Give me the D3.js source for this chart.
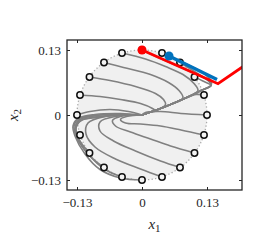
<!DOCTYPE html>
<html>
<head>
<meta charset="utf-8">
<script src="https://cdn.jsdelivr.net/npm/d3@7"></script>
<style>
  body { margin: 0; background: #fff; }
  svg text { font-family: "Liberation Serif", "DejaVu Serif", serif; fill: #262626; }
</style>
</head>
<body>
<div id="chart"></div>
<script>
// initial states on the circle (r = 0.13)
const starts = [
  [0.130, 0], [0.124, 0.040], [0.105, 0.076], [0.076, 0.105], [0.040, 0.124],
  [0, 0.130], [-0.040, 0.124], [-0.076, 0.105], [-0.105, 0.076], [-0.124, 0.040],
  [-0.130, 0], [-0.124, -0.040], [-0.105, -0.076], [-0.076, -0.105], [-0.040, -0.124],
  [0, -0.130], [0.040, -0.124], [0.076, -0.105], [0.105, -0.076], [0.124, -0.040]
];

// slow direction everything from the top slides in on
const diag = [[0.138, 0.059], [0.118, 0.049], [0.098, 0.039], [0.078, 0.030],
  [0.057, 0.021], [0.037, 0.013], [0.017, 0.006], [0, 0]];

// upper half: run right, then join diag at index j
const trajUpper = [
  { pts: [[0, 0.130], [0.037, 0.113], [0.078, 0.095], [0.118, 0.077], [0.138, 0.065]], j: 0 },
  { pts: [[0.040, 0.124], [0.078, 0.107], [0.118, 0.087], [0.138, 0.069]], j: 0 },
  { pts: [[0.076, 0.105], [0.108, 0.085], [0.134, 0.067]], j: 0 },
  { pts: [[0.105, 0.076], [0.124, 0.067]], j: 0 },
  { pts: [[0.124, 0.040], [0.108, 0.041], [0.088, 0.034]], j: 3 },
  { pts: [[-0.040, 0.124], [0.007, 0.112], [0.047, 0.097], [0.082, 0.081], [0.104, 0.063], [0.112, 0.049]], j: 2 },
  { pts: [[-0.076, 0.105], [-0.037, 0.095], [0.017, 0.081], [0.053, 0.065], [0.074, 0.049], [0.082, 0.035]], j: 3 },
  { pts: [[-0.105, 0.076], [-0.064, 0.069], [-0.013, 0.057], [0.027, 0.043], [0.043, 0.031], [0.047, 0.021]], j: 5 },
  { pts: [[-0.124, 0.040], [-0.084, 0.037], [-0.043, 0.031], [-0.003, 0.023], [0.021, 0.013], [0.027, 0.008]], j: 6 }
];

// lower left: hug the rim, turn, come back along the top
const trajLowerLeft = [
  [[-0.130, 0], [-0.104, 0.007], [-0.064, 0.011], [-0.027, 0.007], [0, 0]],
  [[-0.124, -0.040], [-0.132, -0.032], [-0.130, -0.018], [-0.118, -0.009], [-0.084, -0.003], [-0.043, 0], [0, 0]],
  [[-0.105, -0.076], [-0.124, -0.052], [-0.132, -0.028], [-0.122, -0.011], [-0.088, -0.005], [-0.043, 0], [0, 0]],
  [[-0.076, -0.105], [-0.104, -0.082], [-0.126, -0.052], [-0.134, -0.026], [-0.124, -0.009], [-0.090, -0.001], [-0.043, 0.001], [0, 0]],
  [[-0.040, -0.124], [-0.074, -0.109], [-0.108, -0.078], [-0.130, -0.046], [-0.136, -0.022], [-0.126, -0.007], [-0.094, -0.001], [-0.043, 0.001], [0, 0]],
  [[0, -0.130], [-0.043, -0.126], [-0.084, -0.109], [-0.114, -0.078], [-0.134, -0.042], [-0.138, -0.022], [-0.128, -0.007], [-0.094, 0.001], [-0.043, 0.003], [0, 0]]
];

// lower right: go up-left, U-turn, back to origin
const trajLowerRight = [
  [[0.130, 0], [0.078, 0.003], [0.037, 0.007], [0.007, 0.005], [0, 0]],
  [[0.124, -0.040], [0.078, -0.030], [0.037, -0.022], [-0.003, -0.018], [-0.033, -0.016], [-0.043, -0.009], [-0.031, -0.003], [0, 0]],
  [[0.105, -0.076], [0.057, -0.062], [0.017, -0.048], [-0.023, -0.034], [-0.053, -0.022], [-0.059, -0.011], [-0.043, -0.003], [0, 0]],
  [[0.076, -0.105], [0.037, -0.092], [-0.013, -0.072], [-0.057, -0.052], [-0.084, -0.032], [-0.084, -0.014], [-0.053, -0.003], [0, 0]],
  [[0.040, -0.124], [-0.003, -0.108], [-0.053, -0.088], [-0.094, -0.064], [-0.112, -0.038], [-0.108, -0.016], [-0.074, -0.003], [-0.033, 0], [0, 0]]
];

const redTraj = [[0, 0.130], [0.152, 0.0625], [0.25, 0.130]];
const blueTraj = [[0.054, 0.118], [0.150, 0.071]];

const xTicks = [-0.13, 0, 0.13];
const yTicks = [-0.13, 0, 0.13];

const width = 266, height = 246;
const margin = { top: 40, right: 24, bottom: 56, left: 67 };

const svg = d3.select("#chart").append("svg")
  .attr("width", width).attr("height", height);

const x = d3.scaleLinear().domain([-0.15, 0.2]).range([margin.left, width - margin.right]);
const y = d3.scaleLinear().domain([-0.15, 0.15]).range([height - margin.bottom, margin.top]);

svg.append("clipPath").attr("id", "clip")
  .append("rect")
  .attr("x", x(-0.15)).attr("y", y(0.15))
  .attr("width", x(0.2) - x(-0.15)).attr("height", y(-0.15) - y(0.15));

const plot = svg.append("g").attr("clip-path", "url(#clip)");

// disk of initial states
plot.append("ellipse")
  .attr("cx", x(0)).attr("cy", y(0))
  .attr("rx", x(0.13) - x(0)).attr("ry", y(0) - y(0.13))
  .attr("fill", "#f0f0f0")
  .attr("stroke", "#aaaaaa")
  .attr("stroke-width", 1.3)
  .attr("stroke-dasharray", "1.3 2.2");

const line = d3.line()
  .x(d => x(d[0])).y(d => y(d[1]))
  .curve(d3.curveCatmullRom.alpha(0.5));

const grayPaths = trajUpper.map(t => t.pts.concat(diag.slice(t.j)))
  .concat(trajLowerLeft, trajLowerRight);

plot.selectAll(".traj")
  .data(grayPaths)
  .join("path")
  .attr("class", "traj")
  .attr("d", line)
  .attr("fill", "none")
  .attr("stroke", "#808080")
  .attr("stroke-width", 1.6);

plot.selectAll(".start")
  .data(starts)
  .join("circle")
  .attr("class", "start")
  .attr("cx", d => x(d[0])).attr("cy", d => y(d[1]))
  .attr("r", 3.2)
  .attr("fill", "#f4f4f4")
  .attr("stroke", "#111")
  .attr("stroke-width", 1.5);

const straight = d3.line().x(d => x(d[0])).y(d => y(d[1]));

plot.append("path")
  .attr("d", straight(blueTraj))
  .attr("fill", "none").attr("stroke", "#0072bd").attr("stroke-width", 3.5);
plot.append("path")
  .attr("d", straight(redTraj))
  .attr("fill", "none").attr("stroke", "#ff0000").attr("stroke-width", 2.8)
  .attr("stroke-linejoin", "miter");

plot.append("circle")
  .attr("cx", x(blueTraj[0][0])).attr("cy", y(blueTraj[0][1]))
  .attr("r", 4.5).attr("fill", "#0072bd");
plot.append("circle")
  .attr("cx", x(redTraj[0][0])).attr("cy", y(redTraj[0][1]))
  .attr("r", 4.5).attr("fill", "#ff0000");

// axes: ticks inside on all four sides
const tl = 3;
svg.append("g").attr("transform", `translate(0,${y(-0.15)})`)
  .call(d3.axisBottom(x).tickValues(xTicks).tickSizeInner(-tl).tickSizeOuter(0)
    .tickPadding(8).tickFormat(d => d === 0 ? "0" : d3.format(".2f")(d).replace("-", "\u2212")));
svg.append("g").attr("transform", `translate(0,${y(0.15)})`)
  .call(d3.axisTop(x).tickValues(xTicks).tickSizeInner(-tl).tickSizeOuter(0).tickFormat(""));
svg.append("g").attr("transform", `translate(${x(-0.15)},0)`)
  .call(d3.axisLeft(y).tickValues(yTicks).tickSizeInner(-tl).tickSizeOuter(0)
    .tickPadding(6).tickFormat(d => d === 0 ? "0" : d3.format(".2f")(d).replace("-", "\u2212")));
svg.append("g").attr("transform", `translate(${x(0.2)},0)`)
  .call(d3.axisRight(y).tickValues(yTicks).tickSizeInner(-tl).tickSizeOuter(0).tickFormat(""));

svg.selectAll(".domain").remove();
svg.selectAll(".tick line").attr("stroke", "#262626").attr("stroke-width", 1);
svg.selectAll(".tick text").attr("font-size", 13).attr("font-family", "Liberation Serif, DejaVu Serif, serif");

svg.append("rect")
  .attr("x", x(-0.15)).attr("y", y(0.15))
  .attr("width", x(0.2) - x(-0.15)).attr("height", y(-0.15) - y(0.15))
  .attr("fill", "none").attr("stroke", "#262626").attr("stroke-width", 1.3);

// axis labels
const xl = svg.append("text")
  .attr("x", (x(-0.15) + x(0.2)) / 2).attr("y", 229)
  .attr("text-anchor", "middle").attr("font-size", 15);
xl.append("tspan").attr("font-style", "italic").text("x");
xl.append("tspan").attr("font-size", 11).attr("dy", 3).text("1");

const yl = svg.append("text")
  .attr("transform", `translate(18,${(y(0.15) + y(-0.15)) / 2}) rotate(-90)`)
  .attr("text-anchor", "middle").attr("font-size", 15);
yl.append("tspan").attr("font-style", "italic").text("x");
yl.append("tspan").attr("font-size", 11).attr("dy", 3).text("2");
</script>
</body>
</html>
